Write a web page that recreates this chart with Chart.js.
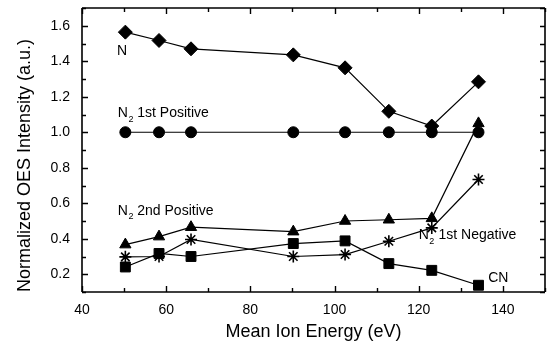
<!DOCTYPE html>
<html>
<head>
<meta charset="utf-8">
<script src="https://cdn.jsdelivr.net/npm/chart.js@4.4.1/dist/chart.umd.min.js"></script>
<style>
html,body{margin:0;padding:0;background:#fff;}
#wrap{width:553px;height:348px;position:relative;}
</style>
</head>
<body>
<div id="wrap"><canvas id="c" width="553" height="348"></canvas></div>
<script>
// ---- data ----
const energy = [50.3, 58.3, 65.9, 90.2, 102.5, 112.9, 123.1, 134.2];
const seriesN = [1.564, 1.517, 1.470, 1.436, 1.363, 1.118, 1.035, 1.284];
const seriesN2First = [1.0, 1.0, 1.0, 1.0, 1.0, 1.0, 1.0, 1.0];
const seriesN2Second = [0.367, 0.412, 0.465, 0.440, 0.500, 0.507, 0.515, 1.050];
const seriesN2PlusNeg = [0.298, 0.300, 0.396, 0.300, 0.311, 0.386, 0.461, 0.734];
const seriesCN = [0.241, 0.317, 0.300, 0.373, 0.388, 0.260, 0.222, 0.138];
const xTickValues = [40, 60, 80, 100, 120, 140];
const yTickValues = [0.2, 0.4, 0.6, 0.8, 1.0, 1.2, 1.4, 1.6];
const xTitle = 'Mean Ion Energy (eV)';
const yTitle = 'Normalized OES Intensity (a.u.)';
// in-plot labels: parts of text, anchored at data coordinates (left, middle)
const labelN = [{t:'N'}];
const labelN2First = [{t:'N'},{t:'2',sub:true},{t:' 1st Positive'}];
const labelN2Second = [{t:'N'},{t:'2',sub:true},{t:' 2nd Positive'}];
const labelN2Plus = [{t:'N'},{t:'2',sub:true,sup:'+'},{t:' 1st Negative'}];
const labelCN = [{t:'CN'}];
const labelAnchors = [
  {parts: labelN, x: 48.3, y: 1.457},
  {parts: labelN2First, x: 48.5, y: 1.107},
  {parts: labelN2Second, x: 48.5, y: 0.556},
  {parts: labelN2Plus, x: 120.0, y: 0.420},
  {parts: labelCN, x: 136.5, y: 0.179}
];

const FONT = '"Liberation Sans", Arial, sans-serif';

function pts(ys){ return energy.map((x,i)=>({x:x, y:ys[i]})); }
function ds(label, ys, style, r, bw){
  return {label, data: pts(ys), borderColor:'#000', backgroundColor:'#000',
    borderWidth:1.2, pointStyle:style, pointRadius:r, pointHoverRadius:r,
    pointBorderWidth:bw || 1, pointBorderColor:'#000', pointBackgroundColor:'#000', tension:0};
}

function drawRich(ctx, parts, x, y, size){
  let cx = x;
  ctx.textBaseline = 'middle';
  ctx.textAlign = 'left';
  for (const p of parts){
    if (p.sub){
      const s = Math.round(size*0.62);
      ctx.font = s + 'px ' + FONT;
      const w1 = ctx.measureText(p.t).width;
      ctx.fillText(p.t, cx+0.5, y + size*0.42);
      let w2 = 0;
      if (p.sup){
        w2 = ctx.measureText(p.sup).width;
        ctx.fillText(p.sup, cx+0.5, y - size*0.5);
      }
      cx += Math.max(w1, w2) + 0.5;
    } else {
      ctx.font = size + 'px ' + FONT;
      ctx.fillText(p.t, cx, y);
      cx += ctx.measureText(p.t).width;
    }
  }
}

const framePlugin = {
  id: 'frame',
  beforeDatasetsDraw(chart){
    const {ctx, chartArea:a, scales:{x, y}} = chart;
    ctx.save();
    ctx.strokeStyle = '#000';
    ctx.lineWidth = 1.6;
    ctx.beginPath();
    ctx.moveTo(a.left, a.top); ctx.lineTo(a.right, a.top);
    ctx.moveTo(a.left, a.top); ctx.lineTo(a.left, a.bottom);
    ctx.moveTo(a.left, a.bottom); ctx.lineTo(a.right, a.bottom);
    ctx.moveTo(a.right, a.top); ctx.lineTo(a.right, a.bottom);
    ctx.stroke();
    ctx.lineWidth = 1.4;
    ctx.beginPath();
    // x ticks every 10 (major every 20)
    for (let v = x.min; v <= x.max + 1e-9; v += 10){
      const px = Math.round(x.getPixelForValue(v)) + 0.5;
      const major = Math.abs((v/20) - Math.round(v/20)) < 1e-6;
      const L = major ? 6 : 4;
      ctx.moveTo(px, a.bottom); ctx.lineTo(px, a.bottom - L);
      ctx.moveTo(px, a.top); ctx.lineTo(px, a.top + L);
    }
    // y ticks every 0.1 (major every 0.2)
    for (let k = 1; k <= 17; k++){
      const v = k/10;
      const py = Math.round(y.getPixelForValue(v)) + 0.5;
      const major = k % 2 === 0;
      const L = major ? 6 : 4;
      ctx.moveTo(a.left, py); ctx.lineTo(a.left + L, py);
      ctx.moveTo(a.right, py); ctx.lineTo(a.right - 5, py);
    }
    ctx.stroke();
    ctx.restore();
  },
  afterDatasetsDraw(chart){
    const {ctx, scales:{x, y}} = chart;
    ctx.save();
    ctx.fillStyle = '#000';
    for (const l of labelAnchors){
      drawRich(ctx, l.parts, x.getPixelForValue(l.x), y.getPixelForValue(l.y), 14);
    }
    ctx.restore();
  }
};

new Chart(document.getElementById('c'), {
  type: 'line',
  data: {
    datasets: [
      ds('N', seriesN, 'rectRot', 7),
      ds('N2 1st Positive', seriesN2First, 'circle', 5.5),
      ds('N2 2nd Positive', seriesN2Second, 'triangle', 6.5),
      ds('N2+ 1st Negative', seriesN2PlusNeg, 'star', 6, 1.6),
      ds('CN', seriesCN, 'rect', 7)
    ]
  },
  options: {
    responsive: false,
    animation: false,
    devicePixelRatio: 1,
    layout: { padding: { top: 8, right: 0, left: 0, bottom: 0 } },
    plugins: { legend: { display: false }, tooltip: { enabled: false } },
    scales: {
      x: {
        type: 'linear', min: 40, max: 150,
        afterBuildTicks: s => { s.ticks = xTickValues.map(v => ({value: v})); },
        afterFit: s => { s.height = 56; s.paddingLeft = 0; s.paddingRight = 0; },
        grid: { display: false, drawTicks: false },
        border: { display: false },
        ticks: { color: '#000', padding: 10, font: { family: FONT, size: 14 }, maxRotation: 0,
                 callback: v => String(v) },
        title: { display: true, text: xTitle, color: '#000', font: { family: FONT, size: 18 },
                 padding: { top: 0, bottom: 5 } }
      },
      y: {
        type: 'linear', min: 0.1, max: 1.7,
        afterBuildTicks: s => { s.ticks = yTickValues.map(v => ({value: v})); },
        afterFit: s => { s.width = 82; s.paddingTop = 0; s.paddingBottom = 0; },
        grid: { display: false, drawTicks: false },
        border: { display: false },
        ticks: { color: '#000', padding: 12, font: { family: FONT, size: 14 },
                 callback: v => Number(v).toFixed(1) },
        title: { display: true, text: yTitle, align: 'start', color: '#000', font: { family: FONT, size: 18 },
                 padding: { top: 14, bottom: 0 } }
      }
    }
  },
  plugins: [framePlugin]
});
</script>
</body>
</html>
